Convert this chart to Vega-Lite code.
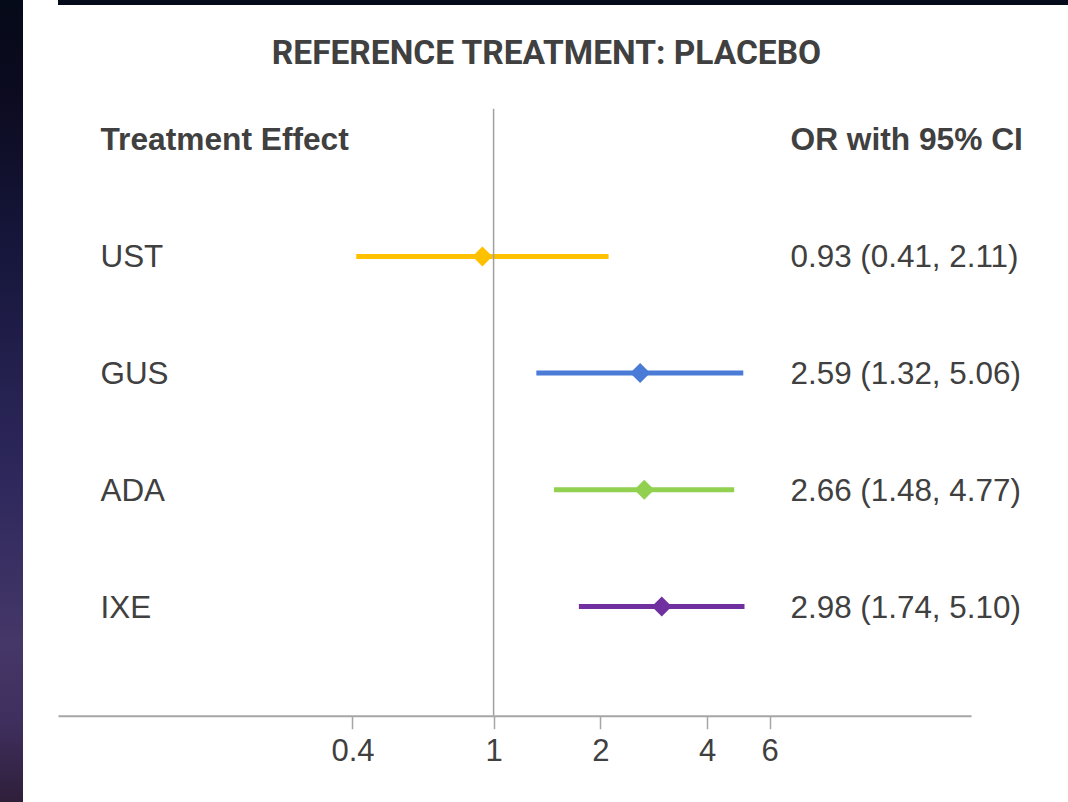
{
  "$schema": "https://vega.github.io/schema/vega-lite/v6.json",
  "background": "white",
  "padding": 0,
  "config": {"view": {"stroke": null}, "font": "Liberation Sans"},
  "spacing": 0,
  "hconcat": [
    {
      "width": 23,
      "height": 802,
      "view": {"fill": {"gradient": "linear", "x1": 0, "y1": 0, "x2": 0, "y2": 1, "stops": [
        {"offset": 0, "color": "#050a18"},
        {"offset": 0.12, "color": "#0c0b20"},
        {"offset": 0.3, "color": "#15163a"},
        {"offset": 0.45, "color": "#221f4c"},
        {"offset": 0.6, "color": "#2e285c"},
        {"offset": 0.8, "color": "#453768"},
        {"offset": 0.9, "color": "#3f2f5e"},
        {"offset": 1, "color": "#2f1f3a"}
      ]}},
      "data": {"values": []},
      "mark": "point"
    },
    {
      "spacing": 31.7,
      "vconcat": [
        {
          "width": 1010,
          "height": 5,
          "view": {"fill": "#050b1b"},
          "data": {"values": []},
          "mark": "point"
        },
        {
          "width": 913,
          "height": 607,
          "title": {
            "text": "REFERENCE TREATMENT: PLACEBO",
            "font": "Roboto",
            "fontSize": 33.5,
            "fontWeight": "bold",
            "color": "#404040",
            "anchor": "middle",
            "dx": 32,
            "offset": 36.5
          },
          "data": {"values": [
            {"drug": "UST", "or": 0.93, "lo": 0.41, "hi": 2.11, "ci": "0.93 (0.41, 2.11)"},
            {"drug": "GUS", "or": 2.59, "lo": 1.32, "hi": 5.06, "ci": "2.59 (1.32, 5.06)"},
            {"drug": "ADA", "or": 2.66, "lo": 1.48, "hi": 4.77, "ci": "2.66 (1.48, 4.77)"},
            {"drug": "IXE", "or": 2.98, "lo": 1.74, "hi": 5.10, "ci": "2.98 (1.74, 5.10)"}
          ]},
          "layer": [
            {
              "mark": {"type": "rule", "strokeWidth": 5},
              "encoding": {
                "x": {
                  "field": "lo", "type": "quantitative",
                  "scale": {"type": "log", "domain": [0.0591, 22.2], "nice": false},
                  "axis": {
                    "title": null, "values": [0.4, 1, 2, 4, 6], "format": "~g",
                    "grid": false, "domainColor": "#A6A6A6", "domainWidth": 2,
                    "tickColor": "#A6A6A6", "tickWidth": 1.5, "tickSize": 13,
                    "labelPadding": 8, "labelFontSize": 31, "labelColor": "#404040",
                    "labelFont": "Liberation Sans", "labelFlush": false, "labelOverlap": false
                  }
                },
                "x2": {"field": "hi"},
                "y": {
                  "field": "drug", "type": "nominal", "sort": null,
                  "scale": {"type": "band", "paddingInner": 0, "paddingOuter": 0.6, "align": 0.6377, "round": false},
                  "axis": {
                    "orient": "left", "title": "Treatment Effect",
                    "domain": false, "ticks": false, "tickSize": 0, "grid": false,
                    "labelAlign": "left", "labelBaseline": "middle", "labelPadding": -42,
                    "labelOffset": 2, "labelLimit": 500,
                    "labelFontSize": 31.4, "labelColor": "#404040", "labelFont": "Liberation Sans",
                    "titleAngle": 0, "titleAlign": "left", "titleBaseline": "alphabetic",
                    "titleX": 42, "titleY": 41, "titleFontSize": 31.7, "titleFontWeight": "bold",
                    "titleColor": "#404040", "titleFont": "Liberation Sans",
                    "minExtent": 35, "maxExtent": 35
                  }
                },
                "color": {
                  "field": "drug", "type": "nominal",
                  "scale": {"domain": ["UST", "GUS", "ADA", "IXE"], "range": ["#FFC000", "#4A7BD6", "#92D050", "#7030A0"]},
                  "legend": null
                }
              }
            },
            {
              "mark": {"type": "point", "shape": "diamond", "filled": true, "size": 400, "opacity": 1, "strokeWidth": 0},
              "encoding": {
                "x": {"field": "or", "type": "quantitative", "title": null},
                "y": {
                  "field": "ci", "type": "nominal", "sort": null,
                  "scale": {"type": "band", "paddingInner": 0, "paddingOuter": 0.6, "align": 0.6377, "round": false},
                  "axis": {
                    "orient": "right", "title": "OR with 95% CI",
                    "domain": false, "ticks": false, "tickSize": 0, "grid": false,
                    "labelAlign": "left", "labelBaseline": "middle", "labelPadding": -181,
                    "labelOffset": 2, "labelLimit": 500,
                    "labelFontSize": 31.4, "labelColor": "#404040", "labelFont": "Liberation Sans",
                    "titleAngle": 0, "titleAlign": "left", "titleBaseline": "alphabetic",
                    "titleX": -181, "titleY": 41, "titleFontSize": 31.7, "titleFontWeight": "bold",
                    "titleColor": "#404040", "titleFont": "Liberation Sans"
                  }
                },
                "color": {"field": "drug", "type": "nominal"}
              }
            },
            {
              "data": {"values": [{"ref": 1}]},
              "mark": {"type": "rule", "color": "#A0A0A0", "strokeWidth": 1.5},
              "encoding": {"x": {"field": "ref", "type": "quantitative", "title": null}}
            }
          ],
          "resolve": {"scale": {"y": "independent"}, "axis": {"y": "independent"}}
        }
      ]
    }
  ]
}
